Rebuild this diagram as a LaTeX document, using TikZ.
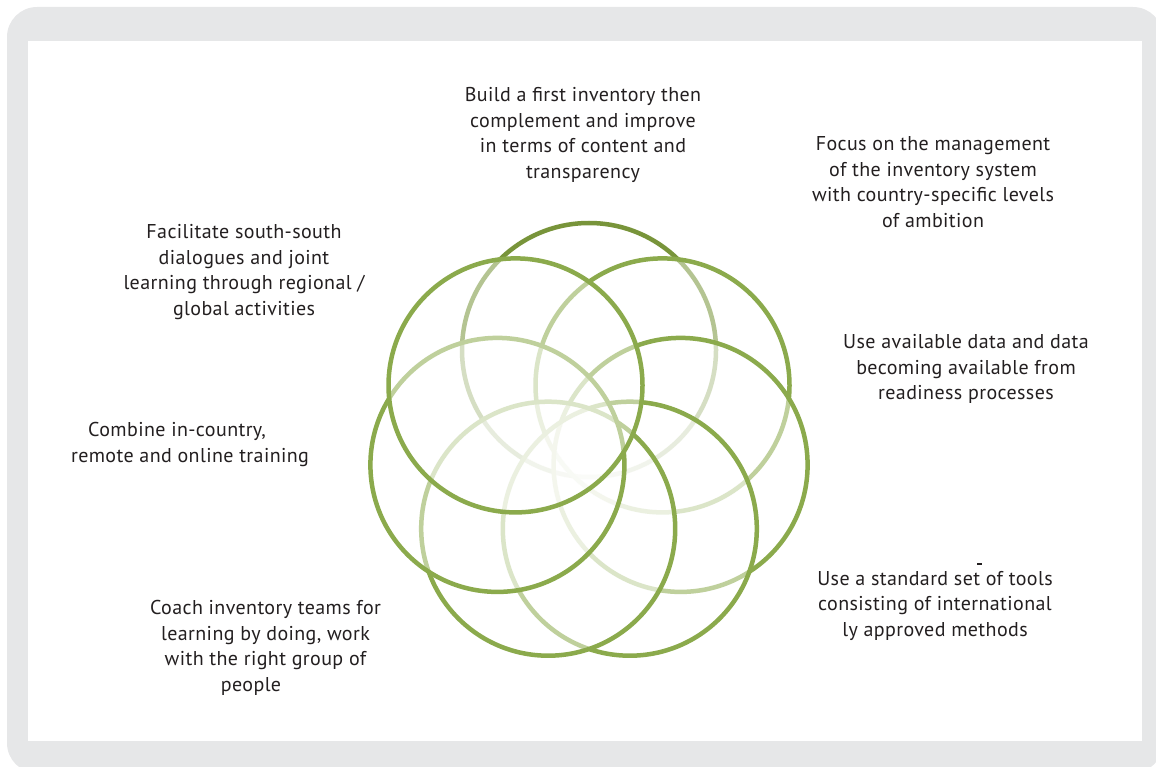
\documentclass[tikz,border=0pt]{standalone}
\usepackage{fontspec}
\newfontfamily\labfont[LetterSpace=2]{PT Sans}
\definecolor{framegrey}{RGB}{230,231,232}
\definecolor{txt}{RGB}{35,31,32}
\definecolor{gdark}{RGB}{120,148,58}
\definecolor{gmid}{RGB}{139,170,76}
\tikzset{
  ring/.style={circle, minimum size=254pt, inner sep=0pt, outer sep=0pt,
     line width=4.5pt, draw=#1, fill=white, fill opacity=0.45, draw opacity=1},
  lab/.style={align=center, inner sep=0pt, text=txt,
     font=\labfont\fontsize{20}{25.5}\selectfont}
}
\begin{document}
\begin{tikzpicture}[x=1pt,y=-1pt]
\useasboundingbox (0,0) rectangle (1156,767);
\fill[framegrey, rounded corners=30pt] (7,7) rectangle (1163,773);
\fill[white] (28,41) rectangle (1142,741);
% seven circles, later ones veil earlier ones
\node[ring=gdark] (cA) at (589,350) {};
\node[ring=gmid]  (cB) at (662.5,385.4) {};
\node[ring=gmid]  (cC) at (680.6,464.9) {};
\node[ring=gmid]  (cD) at (629.8,528.7) {};
\node[ring=gmid]  (cE) at (548.2,528.7) {};
\node[ring=gmid]  (cF) at (497.4,464.9) {};
\node[ring=gmid]  (cG) at (515.5,385.4) {};
% labels
\node[lab] (t1) at (583,135) {Build a first inventory then\\complement and improve\\in terms of content and\\transparency};
\node[lab] (t2) at (933,182) {Focus on the management\\of the inventory system\\with country-specific levels\\of ambition};
\node[lab] (t3) at (966,369) {Use available data and data\\becoming available from\\readiness processes};
\node[lab] (t4) at (935,605.5) {Use a standard set of tools\\consisting of international\\ly approved methods};
\node[lab] (t5) at (265.5,648) {Coach inventory teams for\\learning by doing, work\\with the right group of\\people\hspace*{29pt}};
\node[lab] (t6) at (190,444.5) {Combine in-country,\hspace*{26pt}\\remote and online training};
\node[lab] (t7) at (244,272) {Facilitate south-south\\dialogues and joint\\learning through regional /\\global activities};
\coordinate (m1) at (977,564);
\coordinate (m2) at (981.5,564);
\draw[txt, line width=1.2pt] (m1) -- (m2);
\end{tikzpicture}
\end{document}
